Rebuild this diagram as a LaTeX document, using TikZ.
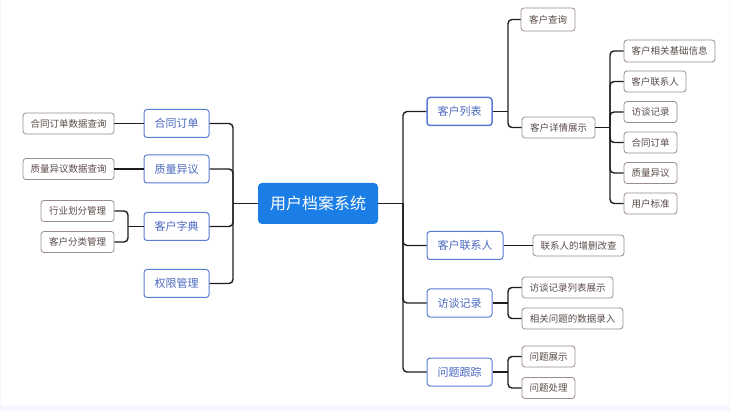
\documentclass[tikz,border=0pt]{standalone}
\usepackage{fontspec}
\setmainfont{Noto Sans CJK SC}
\definecolor{rootblue}{HTML}{1A7EE6}
\definecolor{lonec}{HTML}{5A7BD4}
\definecolor{lonet}{HTML}{4A68C0}
\definecolor{ltwoc}{HTML}{9A8C8A}
\definecolor{ltwot}{HTML}{5A4C4A}
\definecolor{connc}{HTML}{1E1E1E}
\definecolor{bgc}{HTML}{F4F7FC}
\begin{document}
\begin{tikzpicture}[x=1pt,y=-1pt,
  rootbox/.style={fill=rootblue, rounded corners=4pt, text=white, font=\fontsize{16}{18}\selectfont, minimum width=120pt, minimum height=41pt, inner sep=0pt},
  lonebox/.style={draw=lonec, line width=1pt, fill=white, rounded corners=3pt, text=lonet, font=\fontsize{11}{13}\selectfont, minimum height=28pt, inner sep=0pt},
  ltwobox/.style={draw=ltwoc, line width=0.8pt, fill=white, rounded corners=3pt, text=ltwot, font=\fontsize{9.5}{11}\selectfont, minimum height=21pt, inner sep=0pt},
  conn/.style={draw=connc, line width=1.4pt, rounded corners=4pt}]
\useasboundingbox (0,0) rectangle (730,411);
\fill[bgc] (0,0) rectangle (730,411);
\fill[white] (1,0) rectangle (729,405);
% root
\node[rootbox] (root) at (318,203.5) {用户档案系统};
% left level 1
\node[lonebox, minimum width=65pt] (lA) at (176.5,123.5) {合同订单};
\node[lonebox, minimum width=65pt] (lB) at (176.5,169) {质量异议};
\node[lonebox, minimum width=65pt] (lC) at (176.5,226.5) {客户字典};
\node[lonebox, minimum width=65pt] (lD) at (176.5,283.5) {权限管理};
% left level 2
\node[ltwobox, minimum width=91pt] (lA1) at (68.5,123.5) {合同订单数据查询};
\node[ltwobox, minimum width=91pt] (lB1) at (68.5,169) {质量异议数据查询};
\node[ltwobox, minimum width=73pt] (lC1) at (77.5,211) {行业划分管理};
\node[ltwobox, minimum width=73pt] (lC2) at (77.5,242) {客户分类管理};
% right level 1
\node[lonebox, minimum width=65pt, line width=1.5pt] (rA) at (459.5,111.5) {客户列表};
\node[lonebox, minimum width=76pt] (rB) at (465,245.5) {客户联系人};
\node[lonebox, minimum width=65pt] (rC) at (459.5,303) {访谈记录};
\node[lonebox, minimum width=65pt] (rD) at (459.5,372) {问题跟踪};
% right level 2
\node[ltwobox, minimum width=54pt, minimum height=23pt] (rA1) at (548,19.5) {客户查询};
\node[ltwobox, minimum width=73pt] (rA2) at (558.5,127.5) {客户详情展示};
\node[ltwobox, minimum width=91pt] (rB1) at (578.5,245.5) {联系人的增删改查};
\node[ltwobox, minimum width=91pt] (rC1) at (567.5,287.5) {访谈记录列表展示};
\node[ltwobox, minimum width=101pt] (rC2) at (572.5,318.5) {相关问题的数据录入};
\node[ltwobox, minimum width=53pt] (rD1) at (548.5,356.5) {问题展示};
\node[ltwobox, minimum width=53pt] (rD2) at (548.5,388) {问题处理};
% level 3
\node[ltwobox, minimum width=91pt, minimum height=22pt] (rA2a) at (669.5,51) {客户相关基础信息};
\node[ltwobox, minimum width=62pt] (rA2b) at (655,81.5) {客户联系人};
\node[ltwobox, minimum width=53pt] (rA2c) at (650.5,112) {访谈记录};
\node[ltwobox, minimum width=53pt] (rA2d) at (650.5,142.5) {合同订单};
\node[ltwobox, minimum width=53pt] (rA2e) at (650.5,173) {质量异议};
\node[ltwobox, minimum width=53pt] (rA2f) at (650.5,203.5) {用户标准};
% bus coordinates
\coordinate (bL) at (233,203.5);
\coordinate (bC) at (128,226.5);
\coordinate (bR) at (403,203.5);
\coordinate (bA) at (508,111.5);
\coordinate (bA2) at (610,127.5);
\coordinate (bCc) at (508,303);
\coordinate (bD) at (508,372);
% connectors left
\draw[conn] (root.west) -- (bL);
\foreach \n in {lA,lB,lC,lD} \draw[conn] (bL) |- (\n.east);
\draw[conn] (lA.west) -- (lA1.east);
\draw[conn] (lB.west) -- (lB1.east);
\draw[conn] (lC.west) -- (bC);
\foreach \n in {lC1,lC2} \draw[conn] (bC) |- (\n.east);
% connectors right
\draw[conn] (root.east) -- (bR);
\foreach \n in {rA,rB,rC,rD} \draw[conn] (bR) |- (\n.west);
\draw[conn] (rA.east) -- (bA);
\foreach \n in {rA1,rA2} \draw[conn] (bA) |- (\n.west);
\draw[conn] (rA2.east) -- (bA2);
\foreach \n in {rA2a,rA2b,rA2c,rA2d,rA2e,rA2f} \draw[conn] (bA2) |- (\n.west);
\draw[conn] (rB.east) -- (rB1.west);
\draw[conn] (rC.east) -- (bCc);
\foreach \n in {rC1,rC2} \draw[conn] (bCc) |- (\n.west);
\draw[conn] (rD.east) -- (bD);
\foreach \n in {rD1,rD2} \draw[conn] (bD) |- (\n.west);
\end{tikzpicture}
\end{document}
